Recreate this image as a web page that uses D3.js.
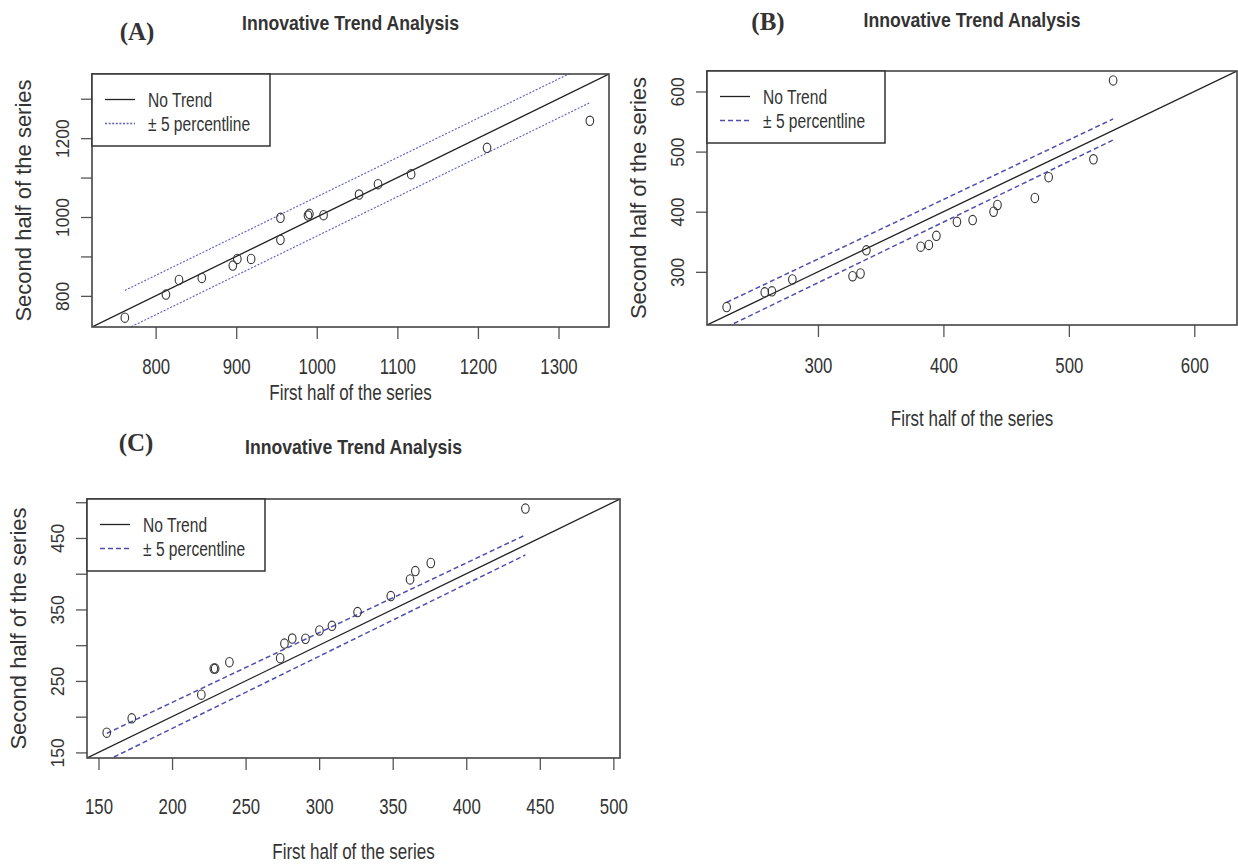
<!DOCTYPE html>
<html>
<head>
<meta charset="utf-8">
<script src="https://cdn.jsdelivr.net/npm/d3@7/dist/d3.min.js"></script>
<style>
  body { margin: 0; background: #fff; }
  text { font-family: 'Liberation Sans', Arial, sans-serif; fill: #333; }
</style>
</head>
<body>
<div id="chart"></div>
<script>
// (A) first / second half of the series
const firstHalfA = [761.8, 812.8, 829, 857.3, 895.8, 901.4, 918.5, 954.9, 954.9, 989.1, 990.8, 1008.4, 1052.5, 1076, 1117.1, 1211.3, 1338.9]
const secondHalfA = [744.8, 803.2, 840.4, 845.5, 876.8, 893.7, 893.7, 997.8, 942, 1003.7, 1008, 1004.6, 1057, 1083.2, 1108.6, 1175.5, 1244]
// offsets of the percentile lines from the 1:1 line, at the first and last x
const lowerBandA = [-48, -49]
const upperBandA = [52, 50]
const xTicksA = [800, 900, 1000, 1100, 1200, 1300]
const yTicksA = [800, 900, 1000, 1100, 1200, 1300]
const yLabelsA = [800, 1000, 1200]

// (B)
const firstHalfB = [227.2, 257.6, 263.3, 279.6, 327.6, 333.9, 338.6, 381.9, 388.4, 394.4, 410.8, 423.3, 440, 443.1, 472.9, 483.9, 519.6, 535.3]
const secondHalfB = [241.3, 265.9, 267.6, 287.2, 292.7, 297.2, 335.8, 341.9, 344.7, 359.8, 383.2, 386, 400, 411.2, 422.9, 457.5, 487.2, 618.4]
const lowerBandB = [-19, -16]
const upperBandB = [22, 19]
const xTicksB = [300, 400, 500, 600]
const yTicksB = [300, 400, 500, 600]
const yLabelsB = [300, 400, 500, 600]

// (C)
const firstHalfC = [155.6, 172.6, 219.9, 228.4, 229.3, 239, 273.5, 276.4, 281.7, 290.7, 300.2, 308.7, 326.1, 348.7, 361.8, 365.4, 375.9, 440.2]
const secondHalfC = [177.6, 197.7, 230.8, 267.3, 267.3, 276.2, 281.8, 302.3, 309.3, 309, 320.6, 327.1, 346.3, 368.7, 392, 403.7, 415, 491.1]
const lowerBandC = [-17, -14]
const upperBandC = [21, 14]
const xTicksC = [150, 200, 250, 300, 350, 400, 450, 500]
const yTicksC = [150, 200, 250, 300, 350, 400, 450, 500]
const yLabelsC = [150, 250, 350, 450]

const legendLabels = ['No Trend', '\u00b1 5 percentline']
const chartTitle = 'Innovative Trend Analysis'
const xTitle = 'First half of the series'
const yTitle = 'Second half of the series'

const width = 1238, height = 865

const svg = d3.select('#chart').append('svg').attr('width', width).attr('height', height)

// horizontal text in the picture is condensed, so squeeze it
const squeeze = (sel, k) =>
  sel.each(function () {
    const len = this.getComputedTextLength()
    d3.select(this).attr('textLength', len * k).attr('lengthAdjust', 'spacingAndGlyphs')
  })

const panels = [
  {
    id: 'A', tag: '(A)', first: firstHalfA, second: secondHalfA, lower: lowerBandA, upper: upperBandA,
    xTicks: xTicksA, yTicks: yTicksA, yLabels: yLabelsA,
    box: { left: 92, top: 74, right: 609, bottom: 327 },
    xLabelY: 374, xTitleY: 400, titleY: 30, tagX: 137, tagY: 40,
    dash: '2,1.6', dashColor: '#5c5cc4', dashWidth: 1.1,
  },
  {
    id: 'B', tag: '(B)', first: firstHalfB, second: secondHalfB, lower: lowerBandB, upper: upperBandB,
    xTicks: xTicksB, yTicks: yTicksB, yLabels: yLabelsB,
    box: { left: 707, top: 71, right: 1237, bottom: 325 },
    xLabelY: 373, xTitleY: 426, titleY: 27, tagX: 768, tagY: 30,
    dash: '5,3', dashColor: '#4f4fb2', dashWidth: 1.5,
  },
  {
    id: 'C', tag: '(C)', first: firstHalfC, second: secondHalfC, lower: lowerBandC, upper: upperBandC,
    xTicks: xTicksC, yTicks: yTicksC, yLabels: yLabelsC,
    box: { left: 87, top: 499, right: 620, bottom: 758 },
    xLabelY: 814, xTitleY: 859, titleY: 454, tagX: 136, tagY: 451,
    dash: '5,3', dashColor: '#4f4fb2', dashWidth: 1.5,
  },
]

const drawPanel = (p) => {
  const g = svg.append('g')
  const b = p.box
  const all = p.first.concat(p.second)
  const lo = d3.min(all), hi = d3.max(all)
  const pad = (hi - lo) * 0.04 // R's default axis extension
  const domain = [lo - pad, hi + pad]

  const x = d3.scaleLinear().domain(domain).range([b.left, b.right])
  const y = d3.scaleLinear().domain(domain).range([b.bottom, b.top])

  g.append('clipPath')
    .attr('id', 'clip' + p.id)
    .append('rect')
    .attr('x', b.left)
    .attr('y', b.top)
    .attr('width', b.right - b.left)
    .attr('height', b.bottom - b.top)

  const plot = g.append('g').attr('clip-path', `url(#clip${p.id})`)

  // no trend (1:1) line
  plot
    .append('line')
    .attr('x1', x(domain[0]))
    .attr('y1', y(domain[0]))
    .attr('x2', x(domain[1]))
    .attr('y2', y(domain[1]))
    .attr('stroke', '#222')
    .attr('stroke-width', 1.3)

  // percentile lines, from the first to the last x of the series
  const x0 = d3.min(p.first), x1 = d3.max(p.first)
  plot
    .selectAll('.band')
    .data([p.lower, p.upper])
    .join('line')
    .attr('class', 'band')
    .attr('x1', x(x0))
    .attr('y1', (d) => y(x0 + d[0]))
    .attr('x2', x(x1))
    .attr('y2', (d) => y(x1 + d[1]))
    .attr('stroke', p.dashColor)
    .attr('stroke-width', p.dashWidth)
    .attr('stroke-dasharray', p.dash)

  // points
  plot
    .selectAll('ellipse')
    .data(d3.zip(p.first, p.second))
    .join('ellipse')
    .attr('cx', (d) => x(d[0]))
    .attr('cy', (d) => y(d[1]))
    .attr('rx', 3.8)
    .attr('ry', 4.7)
    .attr('fill', 'none')
    .attr('stroke', '#333')
    .attr('stroke-width', 1.1)

  // X axis
  const xAxis = g
    .append('g')
    .attr('transform', `translate(0,${b.bottom})`)
    .call(d3.axisBottom(x).tickValues(p.xTicks).tickSize(12).tickSizeOuter(0).tickFormat(d3.format('d')))
  xAxis.select('.domain').remove()
  xAxis.selectAll('line').attr('stroke', '#555').attr('stroke-width', 1.3)
  xAxis
    .selectAll('text')
    .attr('y', p.xLabelY - b.bottom)
    .attr('dy', 0)
    .attr('fill', '#333')
    .style('font-size', '21.5px')
    .call(squeeze, 0.78)

  // Y axis
  const yAxis = g
    .append('g')
    .attr('transform', `translate(${b.left},0)`)
    .call(
      d3.axisLeft(y)
        .tickValues(p.yTicks)
        .tickSize(11)
        .tickSizeOuter(0)
        .tickFormat((d) => (p.yLabels.includes(d) ? d : ''))
    )
  yAxis.select('.domain').remove()
  yAxis.selectAll('line').attr('stroke', '#555').attr('stroke-width', 1.3)
  yAxis
    .selectAll('text')
    .attr('x', 0)
    .attr('y', -23)
    .attr('dy', 0)
    .attr('transform', 'rotate(-90)')
    .attr('text-anchor', 'middle')
    .attr('fill', '#333')
    .style('font-size', '17.5px')

  // box
  g.append('rect')
    .attr('x', b.left)
    .attr('y', b.top)
    .attr('width', b.right - b.left)
    .attr('height', b.bottom - b.top)
    .attr('fill', 'none')
    .attr('stroke', '#444')
    .attr('stroke-width', 1.6)

  // legend
  const lg = g.append('g').attr('transform', `translate(${b.left},${b.top})`)
  lg.append('rect')
    .attr('width', 178)
    .attr('height', 72)
    .attr('fill', '#fff')
    .attr('stroke', '#333')
    .attr('stroke-width', 1.5)
  const rows = [
    { label: legendLabels[0], color: '#222', dash: null, w: 1.3 },
    { label: legendLabels[1], color: p.dashColor, dash: p.dash, w: p.dashWidth + 0.2 },
  ]
  rows.forEach((r, i) => {
    const cy = 25.5 + i * 24
    lg.append('line')
      .attr('x1', 13)
      .attr('x2', 43)
      .attr('y1', cy)
      .attr('y2', cy)
      .attr('stroke', r.color)
      .attr('stroke-width', r.w)
      .attr('stroke-dasharray', r.dash)
    lg.append('text')
      .attr('x', 56)
      .attr('y', cy + 7)
      .attr('fill', '#222')
      .style('font-size', '20.5px')
      .text(r.label)
      .call(squeeze, 0.76)
  })

  const cx = (b.left + b.right) / 2

  // axis titles
  g.append('text')
    .attr('x', cx)
    .attr('y', p.xTitleY)
    .attr('text-anchor', 'middle')
    .attr('fill', '#333')
    .style('font-size', '21.5px')
    .text(xTitle)
    .call(squeeze, 0.79)

  g.append('text')
    .attr('transform', `translate(${b.left - 61},${(b.top + b.bottom) / 2}) rotate(-90)`)
    .attr('text-anchor', 'middle')
    .attr('fill', '#333')
    .style('font-size', '22px')
    .text(yTitle)

  // title
  g.append('text')
    .attr('x', cx)
    .attr('y', p.titleY)
    .attr('text-anchor', 'middle')
    .attr('fill', '#111')
    .style('font-size', '21px')
    .style('font-weight', 'bold')
    .text(chartTitle)
    .call(squeeze, 0.84)

  // panel tag
  g.append('text')
    .attr('x', p.tagX)
    .attr('y', p.tagY)
    .attr('text-anchor', 'middle')
    .attr('fill', '#111')
    .style('font-family', "'Liberation Serif', 'Times New Roman', serif")
    .style('font-size', '25px')
    .style('font-weight', 'bold')
    .text(p.tag)
}

panels.forEach(drawPanel)
</script>
</body>
</html>
